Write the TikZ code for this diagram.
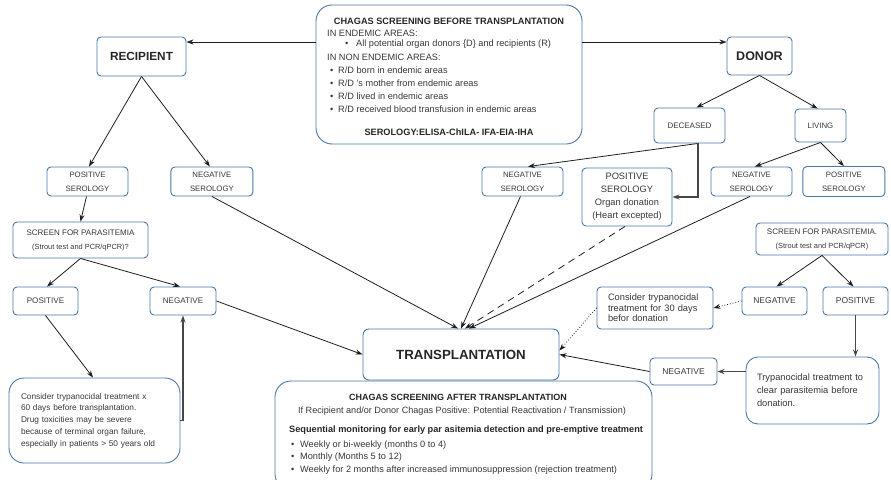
\documentclass[tikz,border=0pt]{standalone}
\usepackage{fontspec}
\setmainfont{Liberation Sans}
\usetikzlibrary{arrows.meta,positioning,calc}
\definecolor{boxblue}{RGB}{74,118,168}
\definecolor{inkgray}{RGB}{55,55,55}
\definecolor{arrowink}{RGB}{30,30,30}
\definecolor{elbowgray}{RGB}{70,70,70}
\newcommand{\fs}[2]{\fontsize{#1}{#2}\selectfont}
\newcommand{\bul}[1]{\makebox[#1][l]{\textbullet}}

\begin{document}
\begin{tikzpicture}[x=1pt, y=-1pt,
    box/.style = {draw=boxblue, line width=0.9pt, rounded corners=4pt,
                  text=inkgray, inner sep=0pt, align=center},
    txt/.style = {inner sep=0pt, text=inkgray},
    flow/.style = {draw=arrowink, line width=0.8pt, -{Stealth[length=7pt, width=5pt]}},
    elbow/.style = {flow, draw=elbowgray, line width=1.3pt},
  ]
    \useasboundingbox (0,0) rectangle (891,479);

    % screening before transplantation
    \node[box, rounded corners=16pt, minimum width=266pt, minimum height=139pt] (before) at (449,74.5) {};
    \node[txt, font=\bfseries\fs{9.2}{11}, text=black!85] (beforetitle) at (449,21) {CHAGAS SCREENING BEFORE TRANSPLANTATION};
    \node[txt, anchor=west, font=\fs{9.2}{11}] (endemic) at (327,33) {IN ENDEMIC AREAS:};
    \node[txt, anchor=west, font=\fs{9.2}{11}] (endemicitem) at (345,44)
      {\bul{11pt}All potential organ donors \{D\} and recipients (R)};
    \node[txt, anchor=west, font=\fs{9.2}{11}] (nonendemic) at (327,57) {IN NON ENDEMIC AREAS:};
    \node[txt, anchor=base west, align=left, font=\fs{9.2}{13}] (nonendemicitems) at (330,112)
      {\bul{8pt}R/D born in endemic areas\\
       \bul{8pt}R/D 's mother from endemic areas\\
       \bul{8pt}R/D lived in endemic areas\\
       \bul{8pt}R/D received blood transfusion in endemic areas};
    \node[txt, font=\bfseries\fs{9.2}{11}, text=black!85] (serology) at (449,132) {SEROLOGY:ELISA-ChILA- IFA-EIA-IHA};

    % recipient side
    \node[box, minimum width=89pt, minimum height=39pt, font=\bfseries\fs{11.8}{14}, text=black!85] (recipient) at (141.5,56.5) {RECIPIENT};
    \node[box, minimum width=81pt, minimum height=29pt, font=\fs{7.8}{14}] (recpos) at (87.5,181.5) {POSITIVE\\SEROLOGY};
    \node[box, minimum width=82pt, minimum height=29pt, font=\fs{7.8}{14}, right=42pt of recpos] (recneg) {NEGATIVE\\SEROLOGY};
    \node[box, minimum width=135pt, minimum height=36pt, font=\fs{8}{14}] (recscreen) at (80.5,240)
      {SCREEN FOR PARASITEMIA\\{\fs{7.4}{9}(Strout test and PCR/qPCR)?}};
    \node[box, minimum width=65pt, minimum height=28pt, font=\fs{8.1}{10}] (recposb) at (45.5,301) {POSITIVE};
    \node[box, minimum width=66pt, minimum height=28pt, font=\fs{8.1}{10}] (recnegb) at (183,301) {NEGATIVE};
    \node[box, rounded corners=15pt, minimum width=171pt, minimum height=85pt, inner xsep=12pt,
          text width=147pt, align=left, font=\fs{8.3}{11.8}] (recconsider) at (94.5,420.5)
      {Consider trypanocidal treatment x\\
       60 days before transplantation.\\
       Drug toxicities may be severe\\
       because of terminal organ failure,\\
       especially in patients > 50 years old};

    % transplantation
    \node[box, rounded corners=6pt, minimum width=196pt, minimum height=51pt, font=\bfseries\fs{13.3}{15}, text=black!85] (transpl) at (461,354.5) {TRANSPLANTATION};

    % screening after transplantation
    \node[box, rounded corners=16pt, minimum width=377pt, minimum height=109pt] (after) at (463.5,435.5) {};
    \node[txt, font=\bfseries\fs{9}{11}, text=black!85] (aftertitle) at (458,397) {CHAGAS SCREENING AFTER TRANSPLANTATION};
    \node[txt, font=\fs{9.1}{11}] (aftersub) at (462,411)
      {If Recipient and/or Donor Chagas Positive: Potential Reactivation / Transmission)};
    \node[txt, anchor=west, font=\bfseries\fs{9.2}{11}, text=black!85] (afterseq) at (289,430)
      {Sequential monitoring for early par asitemia detection and pre-emptive treatment};
    \node[txt, anchor=base west, align=left, font=\fs{9.2}{12.5}] (afteritems) at (291,472)
      {\bul{9pt}Weekly or bi-weekly (months 0 to 4)\\
       \bul{9pt}Monthly (Months 5 to 12)\\
       \bul{9pt}Weekly for 2 months after increased immunosuppression (rejection treatment)};

    % donor side
    \node[box, minimum width=65pt, minimum height=38pt, font=\bfseries\fs{12.5}{14}, text=black!85] (donor) at (759.5,56) {DONOR};
    \node[box, minimum width=71pt, minimum height=35pt, font=\fs{8}{10}] (deceased) at (689.5,125.5) {DECEASED};
    \node[box, minimum width=51pt, minimum height=33pt, font=\fs{7.8}{10}] (living) at (820.5,125.5) {LIVING};
    \node[box, minimum width=81pt, minimum height=29pt, font=\fs{7.8}{14}] (decneg) at (522.5,181.5) {NEGATIVE\\SEROLOGY};
    \node[box, minimum width=90pt, minimum height=58pt, font=\fs{9.3}{13}] (decpos) at (627,197)
      {POSITIVE\\SEROLOGY\\Organ donation\\(Heart excepted)};
    \node[box, minimum width=81pt, minimum height=29pt, font=\fs{7.8}{14}] (livneg) at (751.5,181.5) {NEGATIVE\\SEROLOGY};
    \node[box, minimum width=82pt, minimum height=30pt, font=\fs{7.8}{14}, right=10pt of livneg] (livpos) {POSITIVE\\SEROLOGY};
    \node[box, minimum width=132pt, minimum height=32pt, font=\fs{8}{14}] (donscreen) at (822,239)
      {SCREEN FOR PARASITEMIA.\\{\fs{7.4}{9}(Strout test and PCR/qPCR)}};
    \node[box, minimum width=65pt, minimum height=28pt, font=\fs{8.5}{10}] (donneg) at (774.5,301) {NEGATIVE};
    \node[box, minimum width=65pt, minimum height=28pt, font=\fs{8.5}{10}] (donpos) at (855.5,301) {POSITIVE};
    \node[box, minimum width=116pt, minimum height=42pt, inner xsep=11pt, text width=94pt,
          align=left, font=\fs{9.3}{10.5}] (donconsider) at (655,308)
      {Consider trypanocidal\\treatment for 30 days\\befor donation};
    \node[box, rounded corners=12pt, minimum width=133pt, minimum height=67pt, inner xsep=11pt,
          text width=111pt, align=left, font=\fs{9.3}{13}] (trypano) at (812.5,390.5)
      {Trypanocidal treatment to\\clear parasitemia before\\donation.};
    \node[box, minimum width=67pt, minimum height=27pt, font=\fs{8.5}{10}] (donnegb) at (683.5,371.5) {NEGATIVE};

    % connectors
    \draw[flow] (before.west |- 0,42) -- (recipient.east |- 0,42);
    \draw[flow] (before.east |- 0,42) -- (donor.west |- 0,42);
    \draw[flow] (recipient.south) -- ([xshift=1.5pt]recpos.north);
    \draw[flow] (recipient.south) -- ([xshift=-2pt]recneg.north);
    \draw[flow] ([xshift=-1pt]recpos.south) -- (recscreen.north);
    \draw[flow] (recscreen.south) -- ([xshift=1.5pt]recposb.north);
    \draw[flow] (recscreen.south) -- ([xshift=-3pt]recnegb.north);
    \draw[flow] (recposb.south) -- ([xshift=-1.5pt]recconsider.north);
    \draw[elbow] (recconsider.east) -| (recnegb.south);
    \draw[flow] (recnegb.east) -- (transpl.west);
    \draw[flow] (recneg.south) -- ([xshift=-3pt]transpl.north);
    \draw[flow] ([xshift=-2pt]decneg.south) -- (transpl.north);
    \draw[flow, dashed, dash pattern=on 7pt off 5pt] ([xshift=-2pt]decpos.south) -- ([xshift=4pt]transpl.north);
    \draw[flow] ([xshift=-1.5pt]livneg.south) -- ([xshift=8pt]transpl.north);
    \draw[flow] (donor.south) -- ([xshift=7pt]deceased.north);
    \draw[flow] (donor.south) -- ([xshift=-3pt]living.north);
    \draw[flow] ([xshift=8.5pt]deceased.south) -- ([xshift=5.5pt]decneg.north);
    \draw[elbow] ([xshift=8.5pt]deceased.south) |- (decpos.east);
    \draw[flow] (living.south) -- ([xshift=3.5pt]livneg.north);
    \draw[flow] (living.south) -- (livpos.north);
    \draw[flow] (donscreen.south) -- ([xshift=2pt]donneg.north);
    \draw[flow] (donscreen.south) -- ([xshift=-2pt]donpos.north);
    \draw[flow, dotted] (donneg.west) -- (donconsider.east);
    \draw[flow, dotted] (donconsider.west) -- ([yshift=4pt]transpl.east);
    \draw[elbow] (donpos.south) -- (donpos.south |- trypano.north);
    \draw[elbow] (trypano.west |- donnegb.east) -- (donnegb.east);
    \draw[flow] (donnegb.west) -- (transpl.east);
\end{tikzpicture}
\end{document}
